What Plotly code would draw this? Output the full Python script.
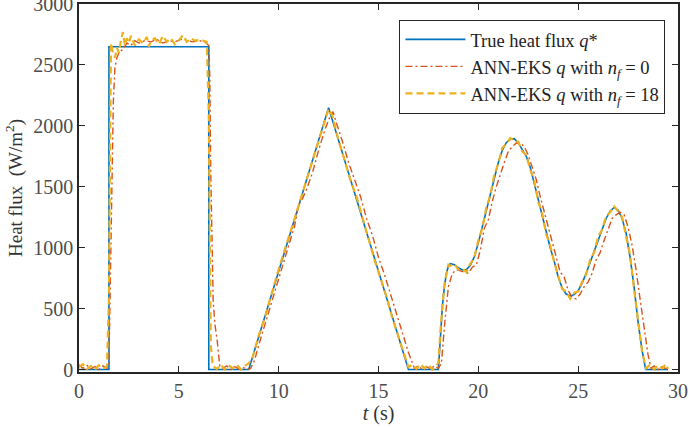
import plotly.graph_objects as go

# True heat flux q*
t_true = [0.0, 1.5, 1.5, 6.5, 6.5, 8.5, 12.5, 16.5, 18.0, 18.1, 18.2, 18.3, 18.4, 18.5, 18.6,
          18.8, 19.0, 19.2, 19.4, 19.6, 19.8, 20.0, 20.2, 20.4, 20.6, 20.8, 21.0, 21.2, 21.4,
          21.6, 21.8, 22.0, 22.2, 22.4, 22.6, 22.8, 23.0, 23.2, 23.4, 23.6, 23.8, 24.0, 24.2,
          24.4, 24.6, 24.8, 25.0, 25.2, 25.4, 25.6, 25.8, 26.0, 26.2, 26.4, 26.6, 26.8, 27.0,
          27.2, 27.4, 27.6, 27.8, 28.0, 28.2, 28.38, 29.5]
q_true = [0, 0, 2650, 2650, 0, 0, 2150, 0, 0, 300, 520, 680, 790, 850, 870,
          860, 835, 818, 820, 855, 926, 1040, 1172, 1310, 1446, 1580, 1700, 1800, 1862,
          1890, 1895, 1860, 1800, 1750, 1660, 1530, 1395, 1260, 1125, 1000, 890, 760, 670,
          620, 604, 615, 648, 710, 790, 880, 975, 1070, 1160, 1240, 1300, 1331, 1310,
          1240, 1120, 920, 680, 390, 160, 0, 0]

# ANN-EKS q with n_f = 0
t_nf0 = [0.0, 0.2, 0.4, 0.6, 0.8, 1.0, 1.2, 1.4, 1.5, 1.55, 1.65, 1.72, 1.8, 1.9, 2.0, 2.2,
         2.4, 2.6, 2.8, 3.0, 3.3, 3.6, 3.9, 4.2, 4.5, 4.8, 5.1, 5.4, 5.7, 6.0, 6.3, 6.5,
         6.55, 6.6, 6.65, 6.72, 6.8, 6.92, 7.05, 7.2, 7.4, 7.6, 7.8, 8.0, 8.2, 8.4, 8.6,
         8.8, 9.0, 9.38, 9.6, 9.9, 10.2, 10.5, 10.8, 11.0, 11.2, 11.4, 11.7, 12.0, 12.3,
         12.6, 12.72, 12.9, 13.2, 13.5, 13.8, 14.1, 14.4, 14.7, 15.0, 15.3, 15.6, 15.9,
         16.2, 16.5, 16.8, 17.0, 17.2, 17.4, 17.6, 17.8, 18.0, 18.15, 18.3, 18.4, 18.5,
         18.7, 18.9, 19.1, 19.3, 19.5, 19.7, 19.9, 20.1, 20.3, 20.5, 20.7, 20.9, 21.1,
         21.3, 21.5, 21.7, 21.9, 22.1, 22.3, 22.5, 22.7, 22.9, 23.1, 23.3, 23.5, 23.7,
         23.9, 24.1, 24.3, 24.5, 24.7, 24.9, 25.1, 25.3, 25.5, 25.7, 25.9, 26.1, 26.3,
         26.5, 26.7, 26.9, 27.1, 27.3, 27.5, 27.7, 27.9, 28.1, 28.3, 28.5, 28.65, 28.8,
         29.0, 29.2, 29.4, 29.5]
q_nf0 = [40, 10, 35, 5, 25, 0, 30, 10, 40, 500, 1500, 2200, 2480, 2560, 2600, 2630,
         2680, 2660, 2700, 2680, 2700, 2690, 2710, 2680, 2700, 2690, 2710, 2700, 2690, 2700, 2690, 2660,
         2400, 1600, 1000, 570, 380, 240, 30, 10, 30, 0, 25, 5, 20, 0, 10,
         80, 200, 407, 520, 700, 860, 1020, 1180, 1350, 1405, 1480, 1620, 1800, 1960,
         2090, 2116, 2020, 1870, 1700, 1560, 1420, 1240, 1100, 920, 780, 620, 460,
         300, 140, 10, 30, 0, 25, 5, 30, 10, 50, 350, 550, 680,
         790, 820, 810, 800, 790, 840, 860, 980, 1160, 1230, 1380, 1500, 1610,
         1700, 1790, 1830, 1860, 1860, 1830, 1760, 1660, 1560, 1420, 1300, 1180, 1060,
         940, 800, 760, 650, 590, 580, 620, 680, 720, 790, 900, 960, 1060,
         1160, 1240, 1270, 1290, 1270, 1170, 1020, 820, 580, 340, 120, 10, 30,
         0, 25, 5, 20]

# ANN-EKS q with n_f = 18
t_nf18 = [0.0, 0.2, 0.4, 0.6, 0.8, 1.0, 1.2, 1.4, 1.5, 1.55, 1.6, 1.7, 1.8, 1.9, 2.0, 2.1,
          2.2, 2.3, 2.4, 2.5, 2.6, 2.8, 3.0, 3.2, 3.4, 3.5, 3.6, 3.8, 4.0, 4.2, 4.4, 4.6,
          4.8, 5.0, 5.2, 5.4, 5.6, 5.8, 6.0, 6.2, 6.4, 6.5, 6.55, 6.6, 6.7, 6.9, 7.1, 7.3,
          7.5, 7.7, 7.9, 8.1, 8.3, 8.5, 8.7, 9.0, 9.3, 9.6, 9.9, 10.2, 10.5, 10.8, 11.1,
          11.4, 11.7, 12.0, 12.3, 12.5, 12.7, 13.0, 13.3, 13.6, 13.9, 14.2, 14.5, 14.8,
          15.1, 15.4, 15.7, 16.0, 16.3, 16.5, 16.7, 16.9, 17.1, 17.3, 17.5, 17.7, 17.9,
          18.0, 18.1, 18.2, 18.3, 18.4, 18.5, 18.6, 18.8, 19.0, 19.2, 19.4, 19.6, 19.8,
          20.0, 20.2, 20.4, 20.6, 20.8, 21.0, 21.2, 21.4, 21.6, 21.8, 22.0, 22.2, 22.4,
          22.6, 22.8, 23.0, 23.2, 23.4, 23.6, 23.8, 24.0, 24.2, 24.4, 24.6, 24.8, 25.0,
          25.2, 25.4, 25.6, 25.8, 26.0, 26.2, 26.4, 26.6, 26.8, 27.0, 27.2, 27.4, 27.6,
          27.8, 28.0, 28.2, 28.4, 28.6, 28.8, 29.0, 29.2, 29.4, 29.5]
q_nf18 = [20, 45, 5, 30, 0, 35, 10, 25, 600, 2000, 2680, 2600, 2560, 2640, 2600, 2700,
          2770, 2660, 2720, 2680, 2740, 2660, 2710, 2680, 2730, 2650, 2700, 2720, 2670, 2740, 2690, 2720,
          2670, 2700, 2745, 2690, 2720, 2700, 2705, 2700, 2690, 2100, 900, 200, 30, 5, 40, 0,
          35, 10, 40, 0, 30, 50, 100, 280, 420, 600, 770, 930, 1080, 1240, 1400,
          1560, 1730, 1880, 2040, 2140, 2080, 1880, 1720, 1550, 1420, 1240, 1080, 900,
          750, 600, 420, 270, 110, 20, 40, 5, 45, 10, 40, 0, 30,
          60, 320, 500, 700, 780, 860, 850, 870, 820, 830, 800, 870, 920,
          1060, 1160, 1330, 1430, 1600, 1690, 1820, 1850, 1900, 1880, 1870, 1790, 1760,
          1640, 1550, 1380, 1280, 1110, 1020, 880, 770, 660, 640, 580, 630, 640,
          720, 780, 900, 960, 1090, 1150, 1260, 1290, 1340, 1300, 1250, 1100, 940,
          660, 410, 150, 10, 40, 0, 35, 10, 45, 5]

x_ticks = [0, 5, 10, 15, 20, 25, 30]
y_ticks = [0, 500, 1000, 1500, 2000, 2500, 3000]

FONT = "Liberation Serif, Times New Roman, serif"
AXC = "#262626"

fig = go.Figure()
fig.add_trace(go.Scatter(x=t_true, y=q_true, mode="lines",
                         name="True heat flux <i>q</i>*",
                         line=dict(color="#0072BD", width=1.6)))
fig.add_trace(go.Scatter(x=t_nf0, y=q_nf0, mode="lines",
                         name="ANN-EKS <i>q</i> with <i>n<sub>f</sub></i> = 0",
                         line=dict(color="#D95319", width=1.4, dash="7px,3px,2px,3px")))
fig.add_trace(go.Scatter(x=t_nf18, y=q_nf18, mode="lines",
                         name="ANN-EKS <i>q</i> with <i>n<sub>f</sub></i> = 18",
                         line=dict(color="#EDB120", width=2.2, dash="7px,4px")))

axis_common = dict(showline=True, linecolor=AXC, linewidth=1.5, mirror="ticks",
                   ticks="inside", ticklen=6, tickwidth=1.2, tickcolor=AXC,
                   showgrid=False, zeroline=False, ticklabeloverflow="allow",
                   tickfont=dict(family=FONT, size=20, color="#4d4d4d"))

fig.update_xaxes(range=[0, 30], tickvals=x_ticks, **axis_common,
                 title=dict(text="<i>t</i> (s)", font=dict(family=FONT, size=20, color="#333"),
                            standoff=0))
fig.update_yaxes(range=[-20, 3000.5], tickvals=y_ticks, **axis_common,
                 title=dict(text="Heat flux  (W/m<sup>2</sup>)",
                            font=dict(family=FONT, size=19, color="#333"), standoff=6))

fig.update_layout(
    width=689, height=427,
    margin=dict(l=79, r=11, t=4, b=55, autoexpand=False),
    paper_bgcolor="white", plot_bgcolor="white",
    showlegend=True,
    legend=dict(x=0.535, y=0.957, xanchor="left", yanchor="top",
                bgcolor="white", bordercolor=AXC, borderwidth=1,
                font=dict(family=FONT, size=18.5, color="#222"),
                itemwidth=60, tracegroupgap=0),
)

fig.write_html("out.html")
